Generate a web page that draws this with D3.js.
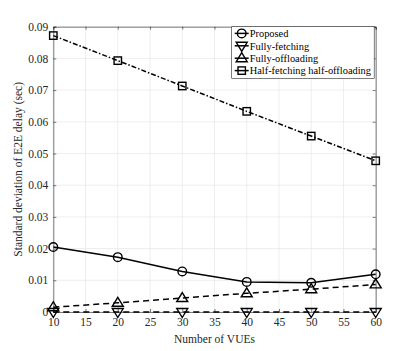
<!DOCTYPE html>
<html>
<head>
<meta charset="utf-8">
<script src="https://cdn.jsdelivr.net/npm/d3@7"></script>
<style>
  body { margin: 0; background: #fff; }
  svg text { font-family: "Liberation Serif", "DejaVu Serif", serif !important; }
</style>
</head>
<body>
<div id="chart"></div>
<script>
var vues = [10, 20, 30, 40, 50, 60];
var proposed = [0.0205, 0.0173, 0.0128, 0.0095, 0.0092, 0.0119];
var fullyFetching = [0, 0, 0, 0, 0, 0];
var fullyOffloading = [0.0015, 0.0029, 0.0044, 0.0059, 0.0072, 0.0087];
var halfHalf = [0.0872, 0.0793, 0.0713, 0.0633, 0.0555, 0.0477];
var xTicks = [10, 15, 20, 25, 30, 35, 40, 45, 50, 55, 60];
var yTicks = [0, 0.01, 0.02, 0.03, 0.04, 0.05, 0.06, 0.07, 0.08, 0.09];
var seriesNames = ["Proposed", "Fully-fetching", "Fully-offloading", "Half-fetching half-offloading"];

var serif = "'Liberation Serif', 'DejaVu Serif', serif";

var margin = { top: 26.7, left: 53.3, right: 39.3, bottom: 39 },
    width = 415 - margin.left - margin.right,
    height = 351 - margin.top - margin.bottom;

var svg = d3.select("#chart").append("svg")
  .attr("width", 415).attr("height", 351)
  .append("g")
  .attr("transform", "translate(" + margin.left + "," + margin.top + ")");

var x = d3.scaleLinear().domain([10, 60]).range([0, width]);
var y = d3.scaleLinear().domain([0, 0.09]).range([height, 0]);

// grid
svg.selectAll(".gx").data(xTicks).enter().append("line")
  .attr("x1", d => x(d)).attr("x2", d => x(d))
  .attr("y1", 0).attr("y2", height)
  .attr("stroke", "#e6e6e6").attr("stroke-width", 0.7);
svg.selectAll(".gy").data(yTicks).enter().append("line")
  .attr("y1", d => y(d)).attr("y2", d => y(d))
  .attr("x1", 0).attr("x2", width)
  .attr("stroke", "#e6e6e6").attr("stroke-width", 0.7);

// axes
svg.append("g").attr("transform", "translate(0," + height + ")")
  .call(d3.axisBottom(x).tickValues(xTicks).tickSize(-3).tickPadding(6).tickFormat(d3.format("d")));
svg.append("g")
  .call(d3.axisLeft(y).tickValues(yTicks).tickSize(-3).tickPadding(5).tickFormat(d => d === 0 ? "0" : d3.format(".2f")(d)));
svg.append("g").attr("transform", "translate(" + width + ",0)")
  .call(d3.axisRight(y).tickValues(yTicks).tickSize(-3).tickFormat(""));
svg.append("g")
  .call(d3.axisTop(x).tickValues(xTicks).tickSize(-3).tickFormat(""));
svg.selectAll("g").attr("font-family", serif);
svg.selectAll(".domain").attr("stroke", "#262626").attr("stroke-width", 0.6);
svg.selectAll(".tick line").attr("stroke", "#262626").attr("stroke-width", 0.6);
svg.selectAll(".tick text").attr("font-size", 11.5).attr("fill", "#262626");

// labels
svg.append("text")
  .attr("x", width / 2).attr("y", height + 31)
  .attr("text-anchor", "middle").attr("font-size", 11.5).attr("fill", "#262626")
  .attr("font-family", serif)
  .text("Number of VUEs");
svg.append("text")
  .attr("transform", "translate(" + (-31) + "," + (height / 2) + ") rotate(-90)")
  .attr("text-anchor", "middle").attr("font-size", 11.5).attr("fill", "#262626")
  .attr("font-family", serif)
  .text("Standard deviation of E2E delay (sec)");

var series = [
  { name: seriesNames[0], values: proposed, dash: null, marker: "circle" },
  { name: seriesNames[1], values: fullyFetching, dash: "6,4", marker: "down" },
  { name: seriesNames[2], values: fullyOffloading, dash: "6,4", marker: "up" },
  { name: seriesNames[3], values: halfHalf, dash: "5,2,1.5,2", marker: "square" }
];

var line = d3.line().x((d, i) => x(vues[i])).y(d => y(d));

function drawMarker(g, type, cx, cy) {
  if (type === "circle") {
    g.append("circle").attr("cx", cx).attr("cy", cy).attr("r", 4.3)
      .attr("fill", "none").attr("stroke", "#000").attr("stroke-width", 1.4);
  } else if (type === "square") {
    g.append("rect").attr("x", cx - 3.7).attr("y", cy - 3.7).attr("width", 7.4).attr("height", 7.4)
      .attr("fill", "none").attr("stroke", "#000").attr("stroke-width", 1.4);
  } else if (type === "up") {
    g.append("path").attr("d", "M" + cx + "," + (cy - 5.5) + "L" + (cx + 5.5) + "," + (cy + 3.5) + "L" + (cx - 5.5) + "," + (cy + 3.5) + "Z")
      .attr("fill", "none").attr("stroke", "#000").attr("stroke-width", 1.4);
  } else {
    g.append("path").attr("d", "M" + cx + "," + (cy + 5.5) + "L" + (cx + 5.5) + "," + (cy - 3.5) + "L" + (cx - 5.5) + "," + (cy - 3.5) + "Z")
      .attr("fill", "none").attr("stroke", "#000").attr("stroke-width", 1.4);
  }
}

series.forEach(function (s) {
  svg.append("path").datum(s.values)
    .attr("d", line).attr("fill", "none").attr("stroke", "#000").attr("stroke-width", 1.5)
    .attr("stroke-dasharray", s.dash);
  var g = svg.append("g");
  s.values.forEach(function (v, i) { drawMarker(g, s.marker, x(vues[i]), y(v)); });
});

// legend
var lx = 231.7 - margin.left, ly = 0, lw = 142.5, lh = 51.6;
var legend = svg.append("g").attr("transform", "translate(" + lx + "," + ly + ")");
legend.append("rect").attr("width", lw).attr("height", lh)
  .attr("fill", "#fff").attr("stroke", "#262626").attr("stroke-width", 0.6);
series.forEach(function (s, i) {
  var cy = 6.7 + i * 12.4;
  legend.append("line").attr("x1", 3).attr("x2", 17).attr("y1", cy).attr("y2", cy)
    .attr("stroke", "#000").attr("stroke-width", 1.5);
  drawMarker(legend, s.marker, 10, cy);
  legend.append("text").attr("x", 18).attr("y", cy + 3.8).attr("font-size", 10.4)
    .attr("font-family", serif)
    .attr("fill", "#000").text(s.name);
});
</script>
</body>
</html>
